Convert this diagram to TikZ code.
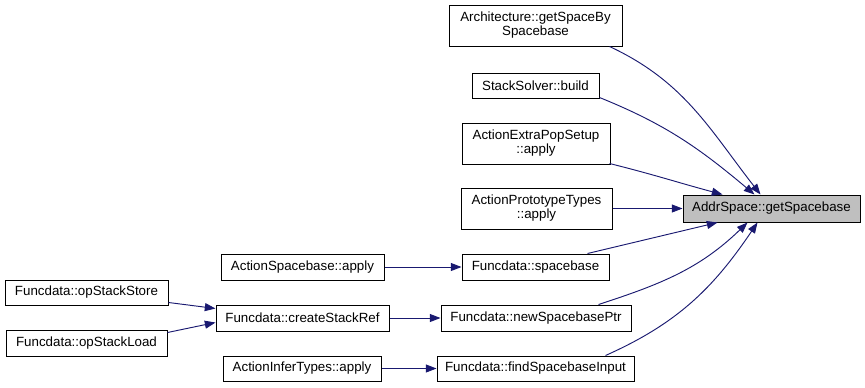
\documentclass[tikz,border=0pt]{standalone}
\usepackage{fontspec}
\setmainfont{Liberation Sans}
\usetikzlibrary{arrows.meta,calc}
\definecolor{edgeblue}{HTML}{191970}
\definecolor{focusgray}{HTML}{BFBFBF}
\tikzset{
  fn/.style={draw=black, fill=white, line width=0.75pt, inner sep=0pt,
    align=center, font=\fontsize{10}{10.5}\selectfont},
  focus/.style={fn, fill=focusgray},
  call/.style={draw=edgeblue, line width=0.7pt,
    -{Triangle[length=8pt,width=6pt,fill=edgeblue]}},
}
\begin{document}
\begin{tikzpicture}[x=0.75pt,y=-0.75pt]
\useasboundingbox (0,0) rectangle (865,387);

% function being called
\node[focus, minimum width=132.75pt, minimum height=20.25pt] (tgt) at (771.5,208.5) {AddrSpace::getSpacebase};

% direct callers
\node[fn, minimum width=129.75pt, minimum height=30.75pt] (arch) at (535.5,25.5) {Architecture::getSpaceBy\\Spacebase};
\node[fn, minimum width=95.25pt, minimum height=18.75pt] (ss) at (535.5,85.5) {StackSolver::build};
\node[fn, minimum width=111pt, minimum height=30.75pt] (aeps) at (536,143.5) {ActionExtraPopSetup\\::apply};
\node[fn, minimum width=113.25pt, minimum height=30.75pt] (apt) at (536.5,208.5) {ActionPrototypeTypes\\::apply};
\node[fn, minimum width=110.25pt, minimum height=19.5pt] (fsb) at (535.5,267) {Funcdata::spacebase};
\node[fn, minimum width=142.5pt, minimum height=19.5pt] (nsp) at (536,318) {Funcdata::newSpacebasePtr};
\node[fn, minimum width=147.75pt, minimum height=18.75pt] (fsi) at (535.5,368.5) {Funcdata::findSpacebaseInput};

% second level
\node[fn, minimum width=122.25pt, minimum height=19.5pt] (asb) at (302.5,267) {ActionSpacebase::apply};
\node[fn, minimum width=129.75pt, minimum height=19.5pt] (csr) at (302.5,318) {Funcdata::createStackRef};
\node[fn, minimum width=118.5pt, minimum height=18.75pt] (ait) at (302,368.5) {ActionInferTypes::apply};

% third level
\node[fn, minimum width=122.25pt, minimum height=18.75pt] (oss) at (86.5,292.5) {Funcdata::opStackStore};
\node[fn, minimum width=120.75pt, minimum height=19.5pt] (osl) at (86.5,343) {Funcdata::opStackLoad};

% calls into the focus function
\draw[call] ($(arch.south east)+(-13,0)$) to[out=-25,in=128] ($(tgt.north west)+(78,0)$);
\draw[call] ($(ss.south east)+(0,-1)$) to[out=-22,in=140] ($(tgt.north west)+(72,0)$);
\draw[call] ($(aeps.south east)+(-1,-1)$) to[out=-14,in=165] ($(tgt.north west)+(40,0)$);
\draw[call] (apt.east) -- (tgt.west);
\draw[call] ($(fsb.north east)+(-22,0)$) -- ($(tgt.south west)+(35,0)$);
\draw[call] ($(nsp.north east)+(-33,0)$) to[out=18,in=-136] ($(tgt.south west)+(65,0)$);
\draw[call] ($(fsi.north east)+(-29,0)$) to[out=24,in=-124] ($(tgt.south west)+(75,0)$);

% deeper calls
\draw[call] (asb.east) -- (fsb.west);
\draw[call] (csr.east) -- (nsp.west);
\draw[call] (ait.east) -- (fsi.west);
\draw[call] ($(oss.south east)+(0,-3)$) -- ($(csr.north west)+(0,4)$);
\draw[call] ($(osl.north east)+(0,3)$) -- ($(csr.south west)+(0,-9)$);
\end{tikzpicture}
\end{document}
